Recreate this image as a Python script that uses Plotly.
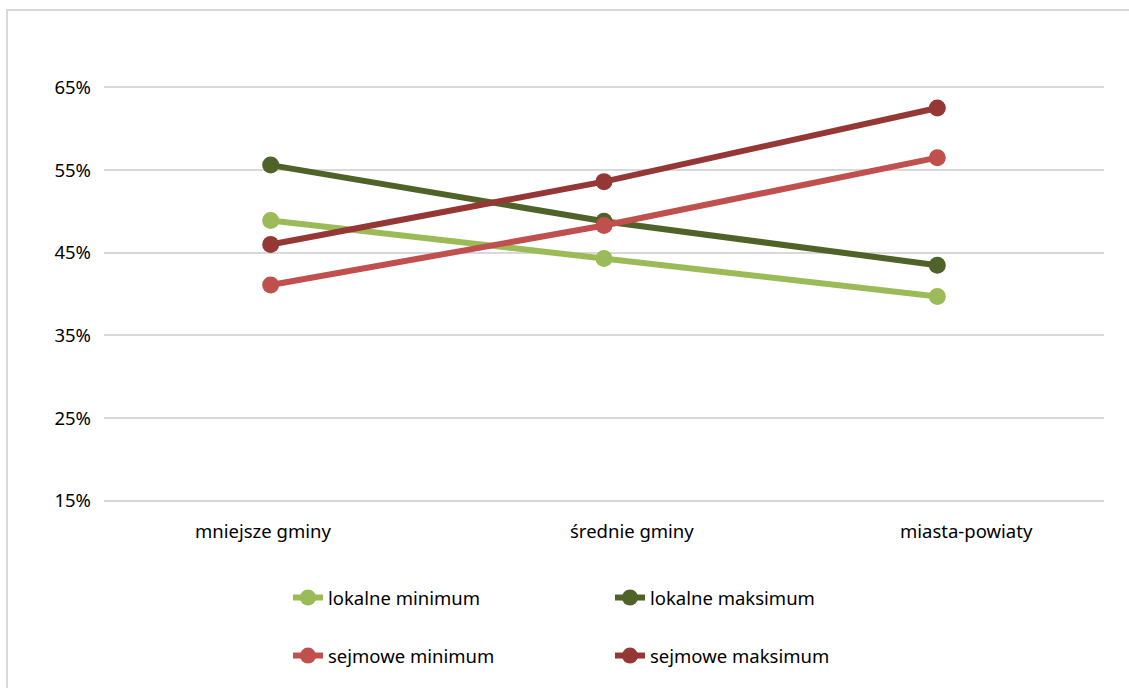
import plotly.graph_objects as go

# Categories and series (share of votes, %)
categories = ["mniejsze gminy", "średnie gminy", "miasta-powiaty"]
lokalne_minimum = [48.9, 44.3, 39.7]
lokalne_maksimum = [55.6, 48.8, 43.5]
sejmowe_minimum = [41.1, 48.3, 56.5]
sejmowe_maksimum = [46.0, 53.6, 62.5]

y_ticks = [15, 25, 35, 45, 55, 65]
y_tick_labels = ["15%", "25%", "35%", "45%", "55%", "65%"]

series = [
    ("lokalne minimum", lokalne_minimum, "#9BBB59", "legend"),
    ("lokalne maksimum", lokalne_maksimum, "#4F6228", "legend"),
    ("sejmowe minimum", sejmowe_minimum, "#C0504D", "legend2"),
    ("sejmowe maksimum", sejmowe_maksimum, "#953735", "legend2"),
]

FONT = "Noto Sans, Open Sans, sans-serif"
FSIZE = 18.5

fig = go.Figure()
for name, values, color, leg in series:
    fig.add_trace(go.Scatter(
        x=categories, y=values, name=name, mode="lines+markers",
        line=dict(color=color, width=6),
        marker=dict(color=color, size=17),
        legend=leg,
    ))

# Category labels below the plot, each nudged horizontally
label_shift = [-8, 28, 29]
for cat, dx in zip(categories, label_shift):
    fig.add_annotation(
        x=cat, y=-0.0545, xref="x", yref="paper", text=cat,
        showarrow=False, xanchor="center", yanchor="middle", xshift=dx,
        font=dict(family=FONT, size=FSIZE, color="#000000"),
    )

legend_common = dict(
    orientation="h", xanchor="left", yanchor="middle",
    entrywidth=277, entrywidthmode="pixels",
    font=dict(family=FONT, size=FSIZE, color="#000000"),
    bgcolor="rgba(0,0,0,0)", itemclick=False, itemdoubleclick=False,
)

fig.update_layout(
    width=1129, height=688,
    margin=dict(l=104, r=25, t=46, b=183),
    paper_bgcolor="white", plot_bgcolor="white",
    font=dict(family=FONT, size=FSIZE, color="#000000"),
    showlegend=True,
    legend=dict(x=0.184, y=-0.2026, **legend_common),
    legend2=dict(x=0.184, y=-0.329, **legend_common),
    xaxis=dict(
        range=[-0.5, 2.5], showgrid=False, zeroline=False,
        showline=False, ticks="", showticklabels=False,
    ),
    yaxis=dict(
        range=[14.5, 70], tickvals=y_ticks, ticktext=y_tick_labels,
        showgrid=True, gridcolor="#D9D9D9", gridwidth=2,
        zeroline=False, showline=False, ticks="",
        ticklabelstandoff=12, tickfont=dict(family=FONT, size=FSIZE),
    ),
    shapes=[dict(
        type="rect", xref="paper", yref="paper",
        x0=-0.097, x1=1.2, y0=1.0784, y1=-1.0,
        line=dict(color="#D9D9D9", width=2), fillcolor="rgba(0,0,0,0)",
        layer="below",
    )],
)

fig.write_html("out.html")
